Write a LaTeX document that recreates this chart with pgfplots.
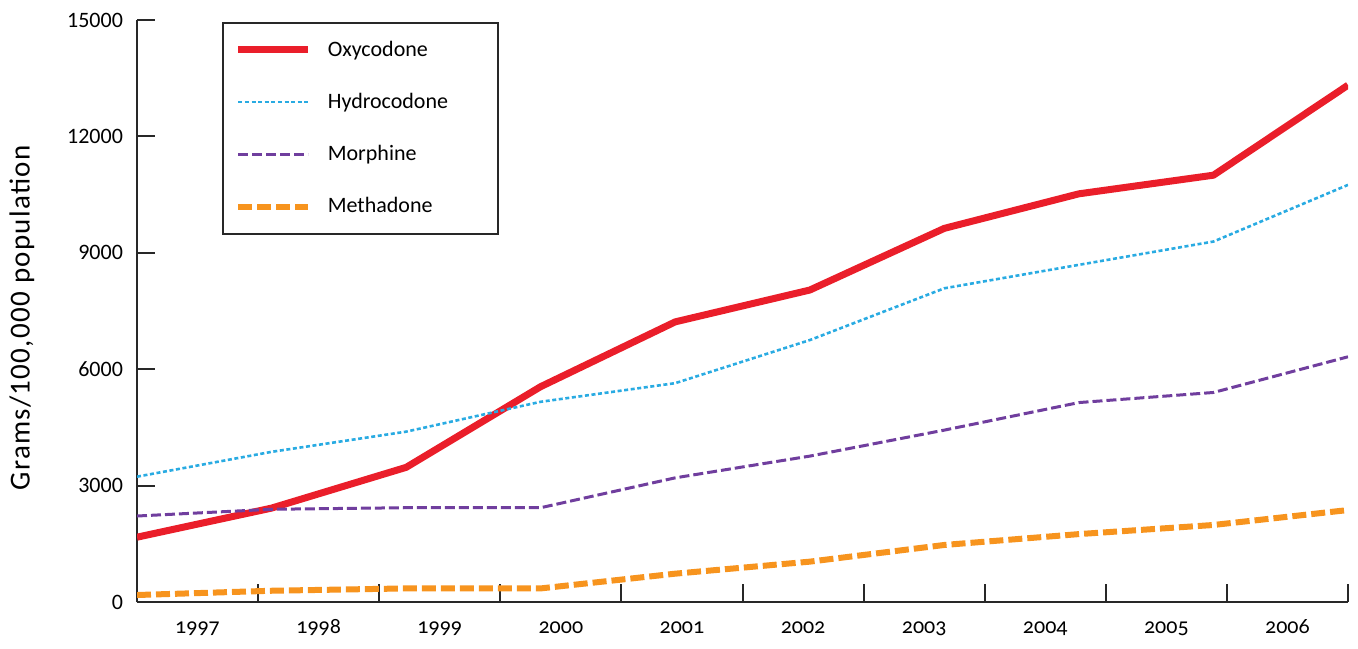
\documentclass[border=0pt]{standalone}
\usepackage{fontspec}
\setmainfont{Carlito}
\newfontfamily\labfont[LetterSpace=4.5]{Carlito}
\newfontfamily\oldfont[Numbers=OldStyle]{Carlito}
\usepackage{pgfplots}
\pgfplotsset{compat=1.18}
\definecolor{oxy}{RGB}{234,30,42}
\definecolor{hydro}{RGB}{41,171,226}
\definecolor{morph}{RGB}{112,62,158}
\definecolor{meth}{RGB}{247,148,30}
\definecolor{axc}{RGB}{40,40,40}
\begin{document}
\begin{tikzpicture}
\path[use as bounding box] (-68.5pt,-23pt) rectangle (610.5pt,301pt);
\begin{axis}[
  at={(0,0)}, anchor=south west,
  scale only axis,
  width=605.5pt, height=291pt,
  xmin=0, xmax=9, ymin=0, ymax=15000,
  axis x line=bottom, axis y line=left,
  axis line style={-, line width=1pt, axc},
  tick style={line width=1pt, axc},
  tick align=inside,
  major tick length=9pt,
  xtick={0,0.9,1.8,2.7,3.6,4.5,5.4,6.3,7.2,8.1,9},
  xticklabels={},
  extra x ticks={0.45,1.35,2.25,3.15,4.05,4.95,5.85,6.75,7.65,8.55},
  extra x tick labels={1997,1998,1999,2000,2001,2002,2003,2004,2005,2006},
  extra x tick style={major tick length=0pt, tick label style={yshift=-6pt, text height=6pt, text depth=2pt, font=\oldfont\fontsize{11}{13}\selectfont}},
  ytick={0,3000,6000,9000,12000,15000},
  scaled y ticks=false,
  yticklabel style={xshift=-3.5pt},
  /pgf/number format/assume math mode=true,
  /pgf/number format/1000 sep={},
  tick label style={font=\fontsize{11}{13}\selectfont},
  every axis y label/.style={at={(axis description cs:-0.095,0.488)}, rotate=90, anchor=center},
  ylabel={Grams/100,000 population},
  label style={font=\labfont\fontsize{14.5}{16}\selectfont},
  legend style={at={(axis description cs:0.0702,0.9966)}, anchor=north west,
    draw=axc, line width=0.8pt, inner xsep=6pt, inner ysep=7pt,
    font=\fontsize{11}{13}\selectfont, row sep=13pt,
    legend cell align=left},
  legend image code/.code={\draw[#1] (0pt,0pt) -- (35pt,0pt);},
  /tikz/every odd column/.append style={column sep=6pt},
]
\addplot[oxy, line width=3.5pt, line join=round] coordinates {
(0,1670) (1,2420) (2,3470) (3,5550) (4,7220) (5,8040) (6,9630) (7,10520) (8,11000) (9,13320)};
\addlegendentry{Oxycodone}
\addplot[hydro, line width=1.3pt, dash pattern=on 2pt off 1.3pt] coordinates {
(0,3230) (1,3870) (2,4390) (3,5160) (4,5640) (5,6750) (6,8085) (7,8690) (8,9290) (9,10750)};
\addlegendentry{Hydrocodone\hspace*{17pt}\mbox{}}
\addplot[morph, line width=1.5pt, dash pattern=on 5pt off 2pt] coordinates {
(0,2216) (1,2390) (2,2430) (3,2430) (4,3200) (5,3760) (6,4430) (7,5140) (8,5400) (9,6320)};
\addlegendentry{Morphine}
\addplot[meth, line width=3pt, dash pattern=on 7pt off 2.5pt] coordinates {
(0,180) (1,290) (2,350) (3,350) (4,730) (5,1040) (6,1470) (7,1750) (8,1985) (9,2370)};
\addlegendentry{Methadone}
\end{axis}
\end{tikzpicture}
\end{document}
